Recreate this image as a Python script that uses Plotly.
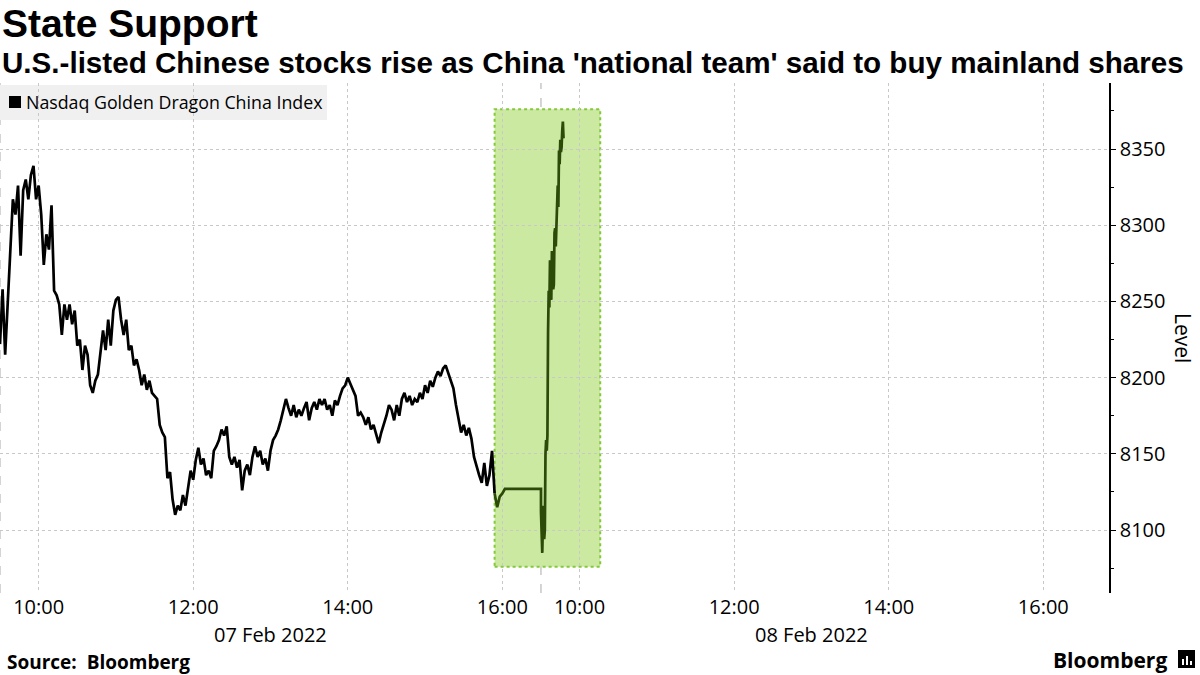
import plotly.graph_objects as go
import pandas as pd

# ---------------- data ----------------
index_name = "Nasdaq Golden Dragon China Index"
day1_date = "2022-02-07"
day2_date = "2022-02-08"

# Day 1: 09:30 -> 16:30, every 2 minutes
day1_values = [
    8222, 8258, 8215, 8251, 8290, 8317, 8307, 8326, 8280, 8323,
    8330, 8317, 8333, 8339, 8317, 8326, 8307, 8274, 8294, 8284,
    8313, 8257, 8254, 8248, 8228, 8248, 8238, 8248, 8235, 8244,
    8221, 8225, 8205, 8221, 8215, 8195, 8190, 8198, 8202, 8215,
    8231, 8218, 8238, 8221, 8244, 8251, 8253, 8238, 8228, 8238,
    8218, 8221, 8208, 8212, 8205, 8195, 8202, 8192, 8198, 8190,
    8188, 8186, 8169, 8164, 8161, 8134, 8138, 8120, 8110, 8116,
    8113, 8123, 8116, 8129, 8139, 8133, 8146, 8154, 8143, 8147,
    8136, 8139, 8134, 8152, 8155, 8159, 8166, 8162, 8168, 8148,
    8143, 8148, 8141, 8146, 8126, 8139, 8143, 8136, 8148, 8155,
    8148, 8152, 8143, 8147, 8139, 8152, 8159, 8162, 8166, 8172,
    8179, 8186, 8180, 8175, 8182, 8174, 8179, 8175, 8180, 8184,
    8172, 8180, 8184, 8179, 8186, 8182, 8186, 8179, 8182, 8175,
    8185, 8182, 8188, 8193, 8195, 8200, 8196, 8192, 8188, 8175,
    8177, 8174, 8169, 8174, 8166, 8169, 8162, 8157, 8164, 8169,
    8175, 8182, 8179, 8172, 8182, 8175, 8186, 8190, 8184, 8188,
    8182, 8186, 8184, 8190, 8186, 8195, 8190, 8198, 8194, 8200,
    8204, 8201, 8206, 8208, 8203, 8197, 8193, 8182, 8172, 8164,
    8169, 8162, 8167, 8160, 8148, 8141, 8136, 8131, 8144, 8129,
    8136, 8152, 8124, 8115, 8122, 8124,
    8127, 8127, 8127, 8127, 8127, 8127, 8127, 8127, 8127, 8127,
    8127, 8127, 8127, 8127, 8127,
]
# Day 2: 09:30 -> 09:47:30, every 30 seconds
day2_values = [
    8112, 8096, 8085, 8105, 8116, 8094, 8100, 8150, 8159, 8152,
    8162, 8230, 8257, 8246, 8277, 8262, 8251, 8283, 8280, 8258,
    8261, 8295, 8298, 8286, 8300, 8318, 8326, 8312, 8349, 8340,
    8356, 8348, 8351, 8362, 8368, 8357,
]

x_tick_times = ["2022-02-07 10:00", "2022-02-07 12:00", "2022-02-07 14:00", "2022-02-07 16:00",
                "2022-02-08 10:00", "2022-02-08 12:00", "2022-02-08 14:00", "2022-02-08 16:00"]
x_tick_labels = ["10:00", "12:00", "14:00", "16:00", "10:00", "12:00", "14:00", "16:00"]
date_label_times = ["2022-02-07 13:00", "2022-02-08 13:00"]
date_labels = ["07 Feb 2022", "08 Feb 2022"]
day_break_times = ["2022-02-07 09:30", "2022-02-08 09:30"]
y_ticks = [8100, 8150, 8200, 8250, 8300, 8350]

highlight_start = "2022-02-07 15:54"
highlight_end = "2022-02-08 10:16"
highlight_low, highlight_high = 8076, 8376

x_range_end = "2022-02-08 16:51"
y_range = [8058.7, 8393.3]

SESSION_MIN = 420  # 09:30 -> 16:30 on the compressed axis


def session_x(ts):
    ts = pd.Timestamp(ts)
    day_idx = (ts.normalize() - pd.Timestamp(day1_date)).days
    since_open = (ts - (ts.normalize() + pd.Timedelta(hours=9, minutes=30))).total_seconds() / 60
    return day_idx * SESSION_MIN + since_open


t1 = pd.date_range(day1_date + " 09:30", periods=len(day1_values), freq="2min")
t2 = pd.date_range(day2_date + " 09:30", periods=len(day2_values), freq="30s")
xs = [session_x(t) for t in t1] + [session_x(t) for t in t2]
ys = list(day1_values) + list(day2_values)

hl_x0 = session_x(highlight_start)
hl_x1 = session_x(highlight_end)
k = next(i for i, v in enumerate(xs) if v >= hl_x0)

# ---------------- layout geometry ----------------
W, H = 1200, 675
PL, PR, PT, PB = 0, 1109, 83, 593


def px2p(px):
    return (px - PL) / (PR - PL)


def py2p(py):
    return (PB - py) / (PB - PT)


FONT = "Open Sans"
HEAD_FONT = "Liberation Sans"

fig = go.Figure()
fig.add_trace(go.Scatter(x=xs[:k + 1], y=ys[:k + 1], mode="lines",
                         line=dict(color="#000000", width=2.7), name=index_name,
                         showlegend=False, hoverinfo="skip"))
fig.add_trace(go.Scatter(x=xs[k:], y=ys[k:], mode="lines",
                         line=dict(color="#2c4a08", width=2.7), name=index_name,
                         showlegend=False, hoverinfo="skip"))

shapes = []
# highlight box
shapes.append(dict(type="rect", xref="x", yref="y", x0=hl_x0, x1=hl_x1,
                   y0=highlight_low, y1=highlight_high, layer="below",
                   fillcolor="#cbe9a1", line=dict(color="#84c93a", width=2, dash="dot")))
# day separators
for t in day_break_times:
    xv = session_x(t)
    shapes.append(dict(type="line", xref="x", yref="paper", x0=xv, x1=xv, y0=0, y1=1,
                       layer="below", line=dict(color="#aaaaaa", width=1, dash="dash")))
# legend box
shapes.append(dict(type="rect", xref="paper", yref="paper", x0=px2p(0), x1=px2p(327),
                   y0=py2p(120), y1=py2p(85), layer="below",
                   fillcolor="#f0f0f0", line=dict(width=0)))
# legend swatch
shapes.append(dict(type="rect", xref="paper", yref="paper", x0=px2p(9), x1=px2p(21),
                   y0=py2p(108), y1=py2p(96), fillcolor="#000000", line=dict(width=0), layer="above"))
# logo icon
shapes.append(dict(type="rect", xref="paper", yref="paper", x0=px2p(1178), x1=px2p(1195),
                   y0=py2p(668), y1=py2p(650), fillcolor="#000000", line=dict(width=0), layer="above"))
for bx, top in [(1182, 659), (1186, 656), (1190, 661)]:
    shapes.append(dict(type="rect", xref="paper", yref="paper", x0=px2p(bx), x1=px2p(bx + 2),
                       y0=py2p(665), y1=py2p(top), fillcolor="#ffffff", line=dict(width=0), layer="above"))

annotations = [
    dict(text="<b>State Support</b>", x=px2p(1), y=py2p(1), xref="paper", yref="paper",
         xanchor="left", yanchor="top", showarrow=False, borderpad=0,
         font=dict(family=HEAD_FONT, size=39, color="#000000")),
    dict(text="<b>U.S.-listed Chinese stocks rise as China 'national team' said to buy mainland shares</b>",
         x=px2p(1), y=py2p(63), xref="paper", yref="paper",
         xanchor="left", yanchor="middle", showarrow=False, borderpad=0,
         font=dict(family=HEAD_FONT, size=29.6, color="#000000")),
    dict(text=index_name, x=px2p(24), y=py2p(102), xref="paper", yref="paper",
         xanchor="left", yanchor="middle", showarrow=False,
         font=dict(family=FONT, size=17.8, color="#000000")),
    dict(text="Level", x=px2p(1183), y=py2p(338), xref="paper", yref="paper",
         xanchor="center", yanchor="middle", showarrow=False, textangle=90,
         font=dict(family=FONT, size=21, color="#000000")),
    dict(text="<b>Source:  Bloomberg</b>", x=px2p(5), y=py2p(662), xref="paper", yref="paper",
         xanchor="left", yanchor="middle", showarrow=False,
         font=dict(family=FONT, size=19, color="#000000")),
    dict(text="<b>Bloomberg</b>", x=px2p(1169), y=py2p(660), xref="paper", yref="paper",
         xanchor="right", yanchor="middle", showarrow=False,
         font=dict(family=FONT, size=21, color="#000000")),
]
for t, lab in zip(date_label_times, date_labels):
    annotations.append(dict(text=lab, x=session_x(t), y=py2p(634), xref="x", yref="paper",
                            xanchor="center", yanchor="middle", showarrow=False,
                            font=dict(family=FONT, size=20, color="#000000")))

fig.update_layout(
    width=W, height=H,
    margin=dict(l=PL, r=W - PR, t=PT, b=H - PB, pad=0),
    paper_bgcolor="#ffffff", plot_bgcolor="#ffffff",
    showlegend=False,
    shapes=shapes, annotations=annotations,
    font=dict(family=FONT, color="#000000"),
    xaxis=dict(range=[0, session_x(x_range_end)], tickmode="array",
               tickvals=[session_x(t) for t in x_tick_times], ticktext=x_tick_labels,
               showgrid=True, gridcolor="#c8c8c8", griddash="dot", gridwidth=1,
               showline=False, zeroline=False, ticks="", automargin=False,
               tickfont=dict(family=FONT, size=20, color="#000000")),
    yaxis=dict(range=y_range, side="right", tickmode="array", tickvals=y_ticks,
               showgrid=True, gridcolor="#c8c8c8", griddash="dot", gridwidth=1,
               showline=True, linecolor="#000000", linewidth=1.5, zeroline=False,
               ticks="outside", ticklen=5, tickcolor="#000000", automargin=False,
               minor=dict(tickmode="linear", tick0=8075, dtick=50, ticks="outside",
                          ticklen=3, tickcolor="#000000", showgrid=False),
               tickfont=dict(family=FONT, size=20, color="#000000")),
)

fig.write_html("out.html")
